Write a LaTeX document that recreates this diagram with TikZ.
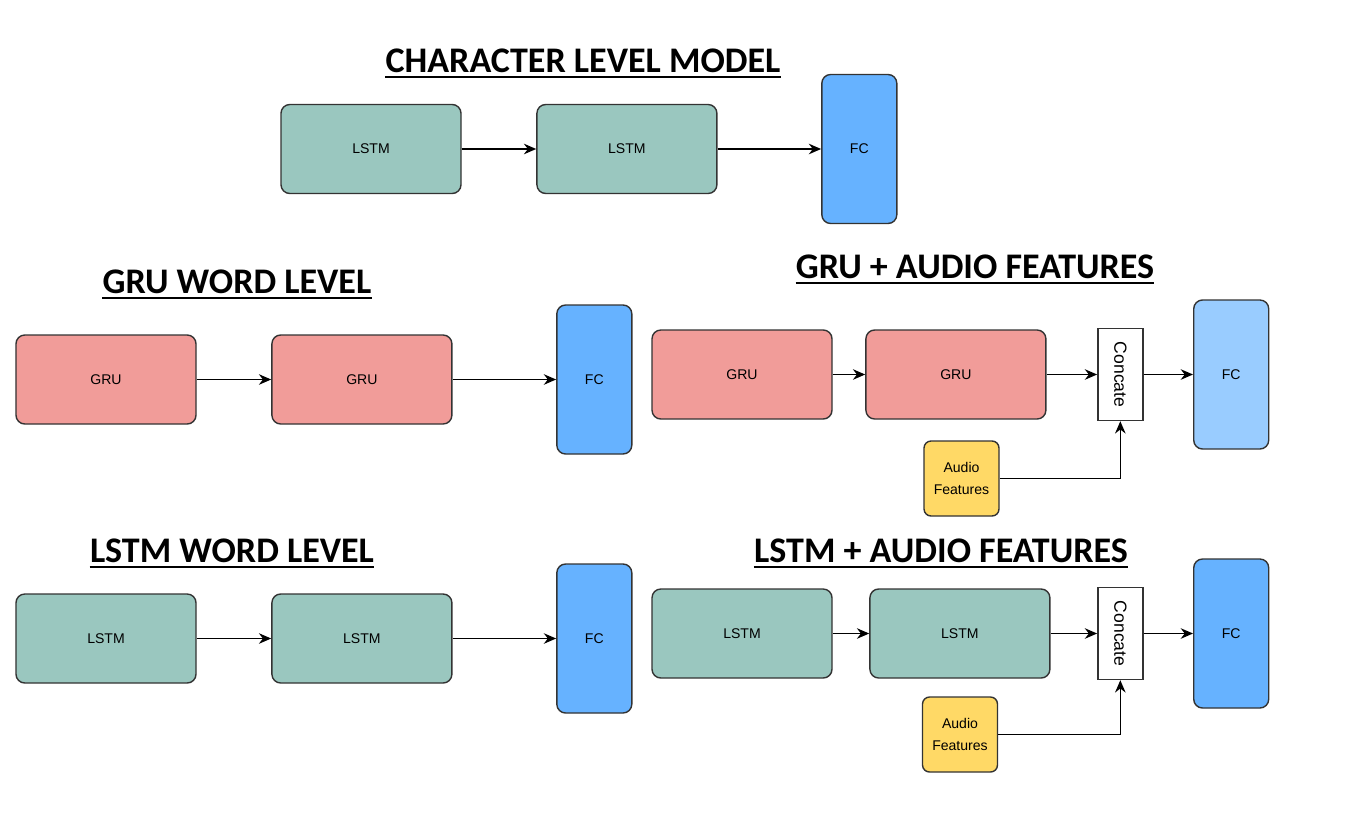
\documentclass[tikz,border=0pt]{standalone}
\usepackage{fontspec}
\setmainfont{Liberation Sans}
\newfontfamily\titlefont{Carlito}
\usetikzlibrary{arrows.meta, positioning}
\definecolor{lstmgreen}{HTML}{9AC7BF}
\definecolor{grupink}{HTML}{F19C99}
\definecolor{fcblue}{HTML}{66B2FF}
\definecolor{fclight}{HTML}{99CCFF}
\definecolor{audioyellow}{HTML}{FFD966}

\begin{document}
\begin{tikzpicture}[
    node distance=1.49cm,
    box/.style={draw=black!80, line width=0.8pt, rounded corners=5pt, minimum width=3.6cm, minimum height=1.78cm, inner sep=0pt, font=\fontsize{8}{10}\selectfont},
    lstm/.style={box, fill=lstmgreen},
    gru/.style={box, fill=grupink},
    fc/.style={box, fill=fcblue, minimum width=1.5cm, minimum height=2.98cm},
    concat/.style={draw=black!80, line width=0.8pt, fill=white, minimum width=0.9cm, minimum height=1.84cm, inner sep=0pt, font=\fontsize{10}{12}\selectfont},
    audio/.style={box, fill=audioyellow, minimum width=1.5cm, minimum height=1.5cm, align=center, rounded corners=4pt, font=\fontsize{8}{12}\selectfont},
    title/.style={font=\titlefont\bfseries\fontsize{20.5}{24}\selectfont, anchor=base, inner sep=0pt},
    arrow/.style={-{Stealth[length=7pt, width=6pt]}, line width=0.8pt}
]
\useasboundingbox (0,0) rectangle (27.4,-16.48);

% Titel
\node[title] (tChar) at (11.66,-1.44) {CHARACTER LEVEL MODEL};
\node[title] (tGruWord) at (4.74,-5.86) {GRU WORD LEVEL};
\node[title] (tGruAudio) at (19.5,-5.56) {GRU + AUDIO FEATURES};
\node[title] (tLstmWord) at (4.64,-11.24) {LSTM WORD LEVEL};
\node[title] (tLstmAudio) at (18.82,-11.24) {LSTM + AUDIO FEATURES};
\foreach \t in {tChar, tGruWord, tGruAudio, tLstmWord, tLstmAudio}
    \draw[line width=1.1pt] ([yshift=-3pt]\t.base west) -- ([yshift=-3pt]\t.base east);

% Character level
\node[lstm] (lstmA) at (7.42,-2.98) {LSTM};
\node[lstm, right=of lstmA] (lstmB) {LSTM};
\node[fc, right=2.07cm of lstmB] (fcA) {FC};

% GRU word level
\node[gru] (gruA) at (2.12,-7.59) {GRU};
\node[gru, right=of gruA] (gruB) {GRU};
\node[fc, right=2.07cm of gruB] (fcB) {FC};

% GRU + audio
\node[gru] (gruC) at (14.84,-7.49) {GRU};
\node[gru, right=0.65cm of gruC] (gruD) {GRU};
\node[concat, right=1.01cm of gruD] (catA) {\rotatebox{-90}{Concate}};
\node[fc, fill=fclight, right=0.99cm of catA] (fcC) {FC};
\node[audio] (audioA) at (19.23,-9.57) {Audio\\Features};

% LSTM word level
\node[lstm] (lstmC) at (2.12,-12.77) {LSTM};
\node[lstm, right=of lstmC] (lstmD) {LSTM};
\node[fc, right=2.07cm of lstmD] (fcD) {FC};

% LSTM + audio
\node[lstm] (lstmE) at (14.84,-12.67) {LSTM};
\node[lstm, right=0.73cm of lstmE] (lstmF) {LSTM};
\node[concat, right=0.93cm of lstmF] (catB) {\rotatebox{-90}{Concate}};
\node[fc, right=0.99cm of catB] (fcE) {FC};
\node[audio] (audioB) at (19.2,-14.69) {Audio\\Features};

% Pfeile
\draw[arrow] (lstmA) -- (lstmB);
\draw[arrow] (lstmB) -- (fcA);
\draw[arrow] (gruA) -- (gruB);
\draw[arrow] (gruB) -- (fcB);
\draw[arrow] (gruC) -- (gruD);
\draw[arrow] (gruD) -- (catA);
\draw[arrow] (catA) -- (fcC);
\draw[arrow] (audioA.east) -| (catA.south);
\draw[arrow] (lstmC) -- (lstmD);
\draw[arrow] (lstmD) -- (fcD);
\draw[arrow] (lstmE) -- (lstmF);
\draw[arrow] (lstmF) -- (catB);
\draw[arrow] (catB) -- (fcE);
\draw[arrow] (audioB.east) -| (catB.south);

\end{tikzpicture}
\end{document}
